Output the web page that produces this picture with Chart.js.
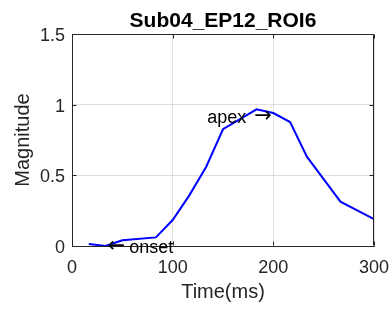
<!DOCTYPE html>
<html>
<head>
<meta charset="utf-8">
<script src="https://cdn.jsdelivr.net/npm/chart.js@4"></script>
<style>
  body { margin: 0; background: #fff; }
  canvas { display: block; }
</style>
</head>
<body>
<canvas id="chart" width="392" height="309"></canvas>
<script>
const chartTitle = "Sub04_EP12_ROI6";
const timeMs = [16.67, 33.33, 50, 83.33, 100, 116.67, 133.33, 150, 183.33, 200, 216.67, 233.33, 266.67, 300];
const magnitude = [0.014, 0, 0.04, 0.061, 0.184, 0.36, 0.561, 0.826, 0.967, 0.941, 0.877, 0.632, 0.314, 0.191];
const xTicks = [0, 100, 200, 300];
const yTicks = [0, 0.5, 1, 1.5];

// text notes, anchored in data coordinates (arrow on the anchor side)
const noteText = ["onset", "apex"];
const noteArrow = ["\u2190", "\u2192"];
const noteX = [33.33, 200];
const noteY = [0, 0.92];
const noteAlign = ["left", "right"];

const axisColor = "#262626";
const font = "'Liberation Sans', Arial, Helvetica, sans-serif";
const arrowFont = "21px 'DejaVu Sans', sans-serif";

const matlabAxes = {
  id: "matlabAxes",
  afterDraw(chart) {
    const { ctx, chartArea: a, scales } = chart;
    const L = Math.round(a.left) + 0.5, R = Math.round(a.right) - 0.5;
    const T = Math.round(a.top) + 0.5, B = Math.round(a.bottom) - 0.5;
    ctx.save();
    ctx.strokeStyle = axisColor;
    ctx.lineWidth = 1;
    ctx.beginPath();
    ctx.moveTo(L, T); ctx.lineTo(R, T); ctx.lineTo(R, B);
    // inward ticks
    xTicks.forEach(v => {
      const x = Math.round(scales.x.getPixelForValue(v)) + 0.5;
      ctx.moveTo(x, B); ctx.lineTo(x, B - 4);
      ctx.moveTo(x, T); ctx.lineTo(x, T + 4);
    });
    yTicks.forEach(v => {
      const y = Math.round(scales.y.getPixelForValue(v)) + 0.5;
      ctx.moveTo(L, y); ctx.lineTo(L + 4, y);
      ctx.moveTo(R, y); ctx.lineTo(R - 4, y);
    });
    ctx.stroke();

    // title
    ctx.fillStyle = "#000";
    ctx.font = "bold 21px " + font;
    ctx.textAlign = "center";
    ctx.textBaseline = "alphabetic";
    ctx.fillText(chartTitle, (a.left + a.right) / 2, 27);

    // notes
    noteText.forEach((t, i) => {
      const px = scales.x.getPixelForValue(noteX[i]);
      const py = scales.y.getPixelForValue(noteY[i]);
      const left = noteAlign[i] === "left";
      ctx.textAlign = noteAlign[i];
      ctx.font = arrowFont;
      ctx.textBaseline = "middle";
      const ax = left ? px + 2 : px - 1.5;
      ctx.fillText(noteArrow[i], ax, py + 1);
      const aw = ctx.measureText(noteArrow[i]).width;
      ctx.font = "18px " + font;
      ctx.textBaseline = "alphabetic";
      if (left) ctx.fillText(t, ax + aw + 4, py + 7);
      else ctx.fillText(t, ax - aw - 8, py + 7);
    });
    ctx.restore();
  }
};

new Chart(document.getElementById("chart"), {
  type: "line",
  data: {
    datasets: [{
      data: timeMs.map((t, i) => ({ x: t, y: magnitude[i] })),
      borderColor: "#0000ff",
      borderWidth: 2,
      pointRadius: 0,
      tension: 0,
      fill: false
    }]
  },
  options: {
    responsive: false,
    animation: false,
    devicePixelRatio: 1,
    layout: { padding: { top: 34, right: 18, left: 0, bottom: 0 } },
    plugins: {
      legend: { display: false },
      tooltip: { enabled: false },
      title: { display: false }
    },
    scales: {
      x: {
        type: "linear",
        min: 0,
        max: 300,
        afterBuildTicks: s => { s.ticks = xTicks.map(v => ({ value: v })); },
        afterFit: s => { s.height = 63; s.paddingLeft = 0; s.paddingRight = 0; },
        grid: { color: "rgba(38,38,38,0.15)", drawTicks: false },
        border: { color: axisColor, width: 1 },
        ticks: {
          padding: 11,
          color: axisColor,
          font: { family: font, size: 18 },
          maxRotation: 0,
          callback: v => String(v)
        },
        title: {
          display: true,
          text: "Time(ms)",
          color: axisColor,
          font: { family: font, size: 20 },
          padding: { top: 0, bottom: 5 }
        }
      },
      y: {
        min: 0,
        max: 1.5,
        afterBuildTicks: s => { s.ticks = yTicks.map(v => ({ value: v })); },
        afterFit: s => { s.width = 72; s.paddingTop = 0; s.paddingBottom = 0; },
        grid: { color: "rgba(38,38,38,0.15)", drawTicks: false },
        border: { color: axisColor, width: 1 },
        ticks: {
          padding: 7,
          labelOffset: 2,
          color: axisColor,
          font: { family: font, size: 18 },
          callback: v => String(v)
        },
        title: {
          display: true,
          text: "Magnitude",
          color: axisColor,
          font: { family: font, size: 20 },
          padding: { top: 11, bottom: 0 }
        }
      }
    }
  },
  plugins: [matlabAxes]
});
</script>
</body>
</html>
